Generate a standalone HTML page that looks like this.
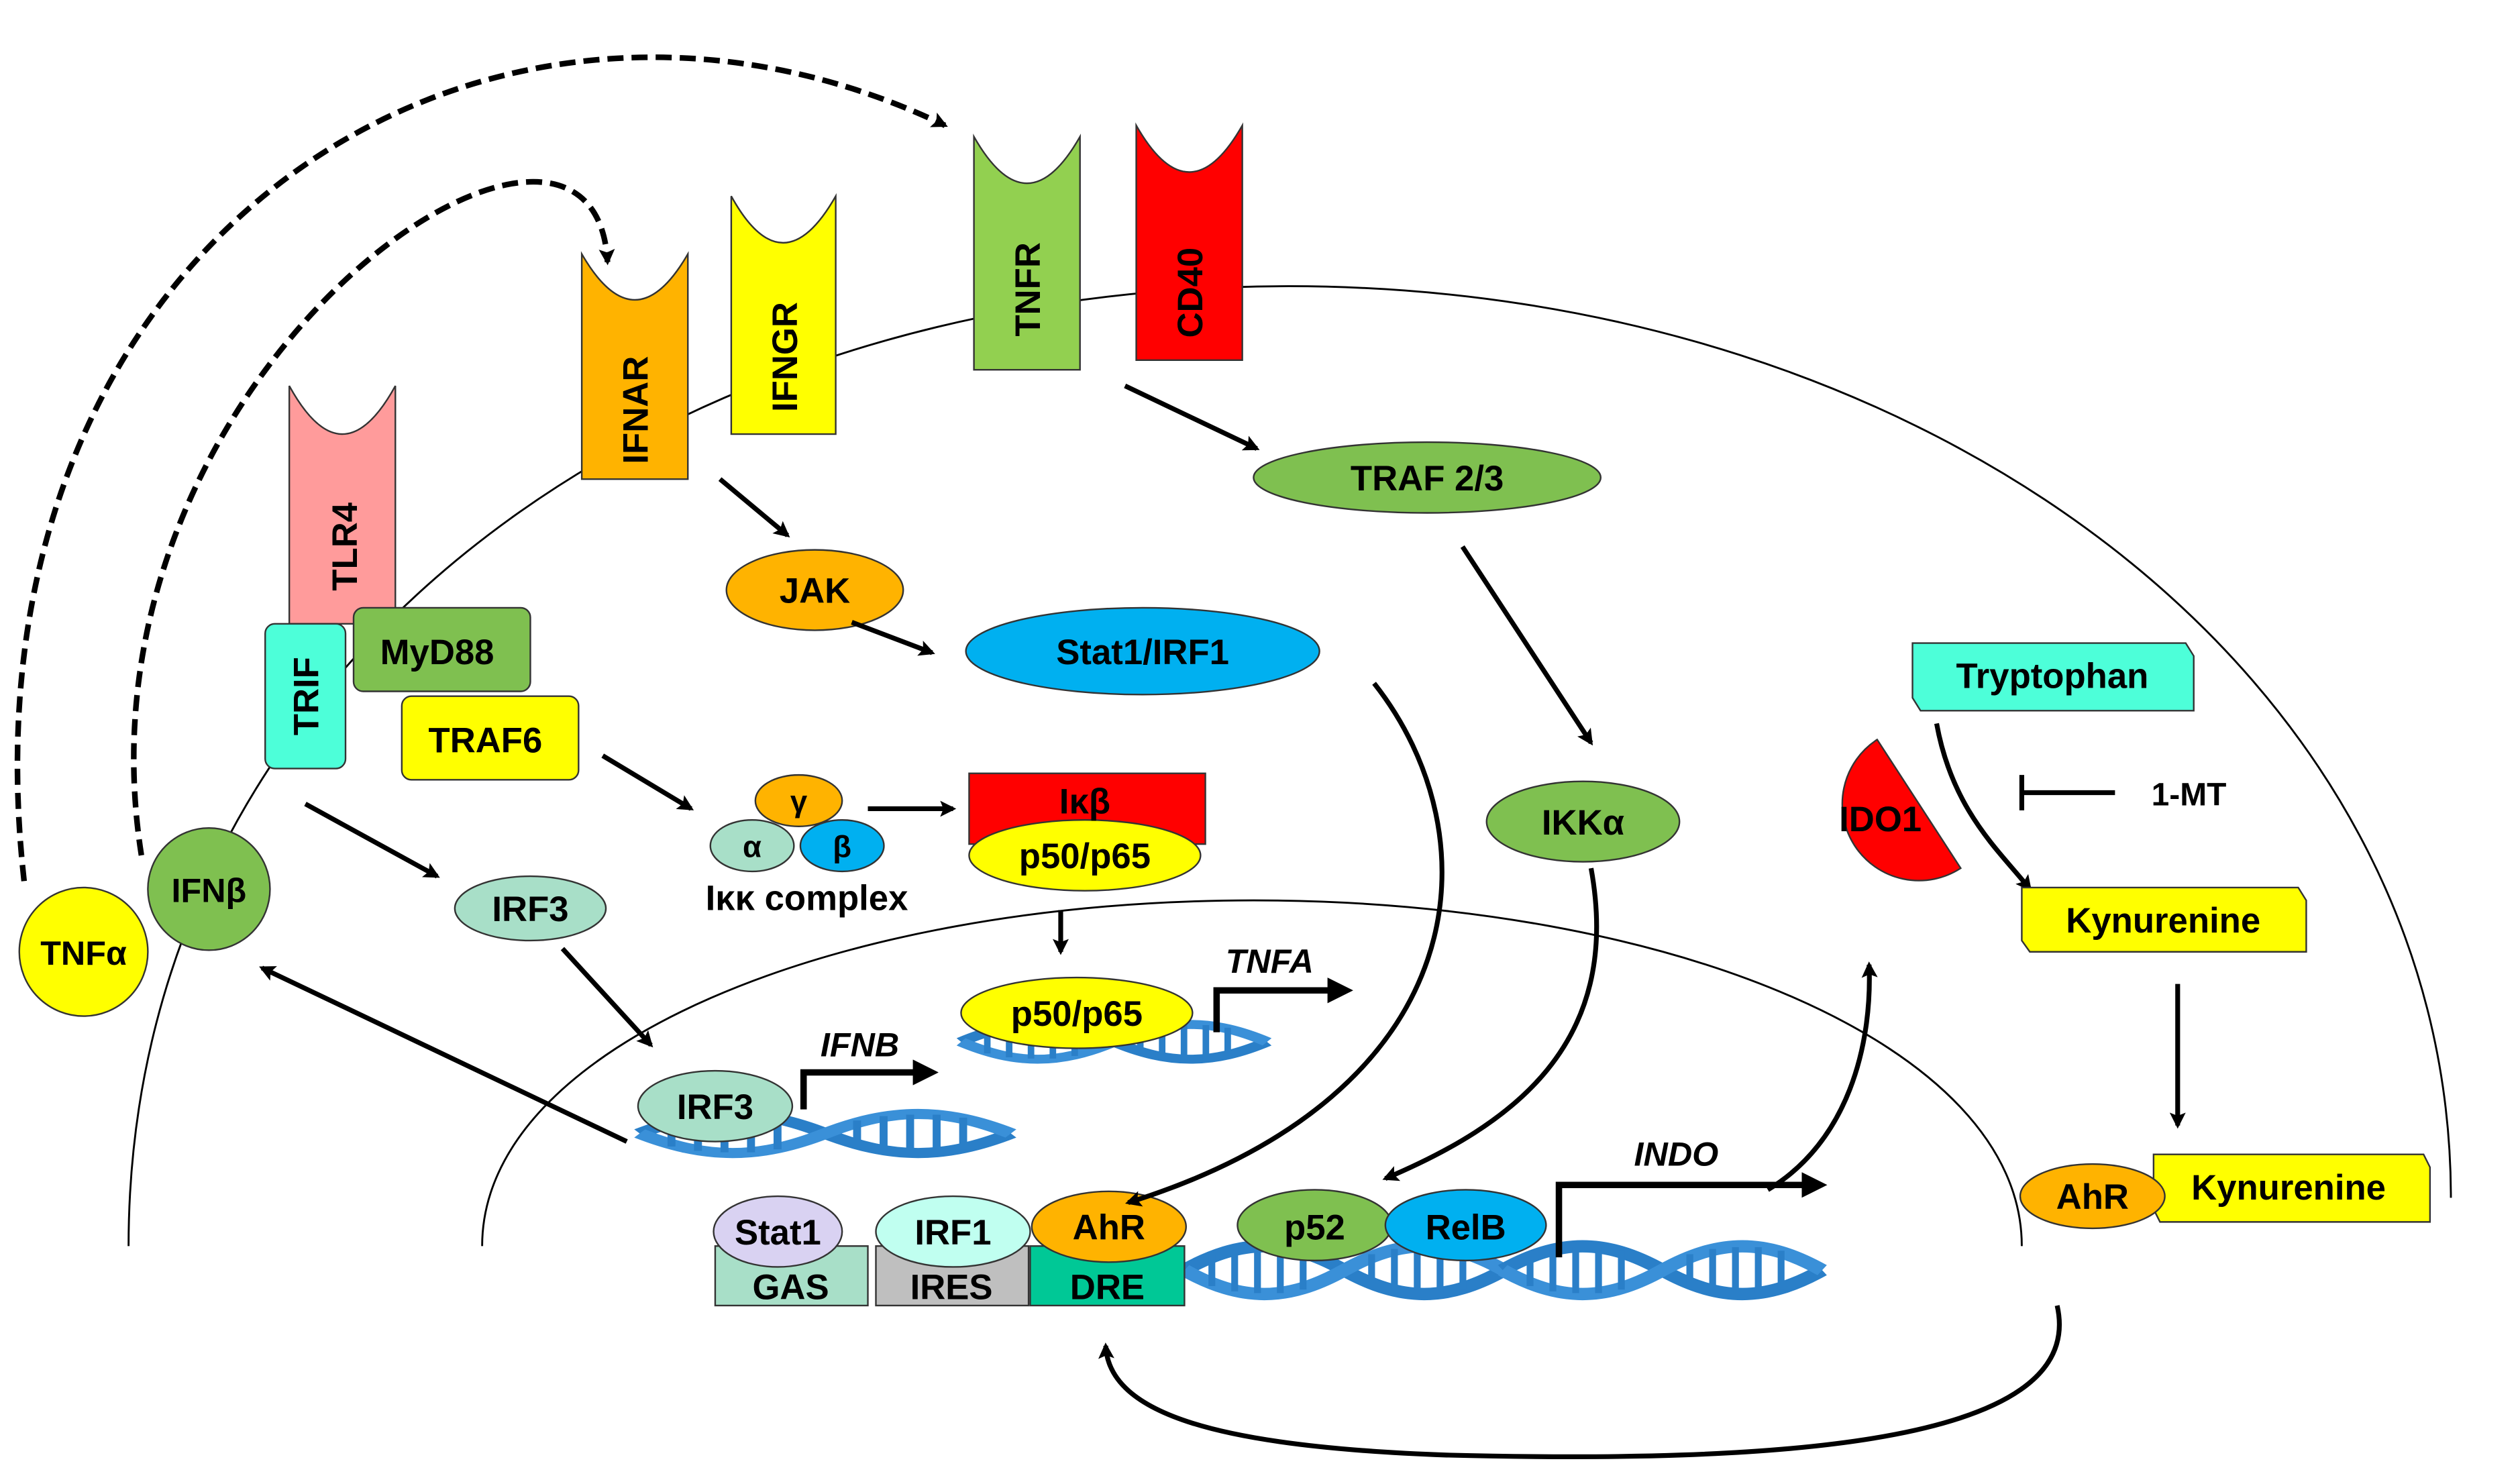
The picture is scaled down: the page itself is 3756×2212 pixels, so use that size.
<!DOCTYPE html>
<html><head><meta charset="utf-8"><style>
html,body{margin:0;padding:0;background:#fff;}
svg{display:block;}
text{font-family:"Liberation Sans",Arial,sans-serif;font-weight:bold;fill:#000;}
</style></head><body>
<svg width="3756" height="2212" viewBox="0 0 1568 923" preserveAspectRatio="none" xmlns="http://www.w3.org/2000/svg">
<defs>
<marker id="ah" markerWidth="10" markerHeight="10" refX="8" refY="5" orient="auto" markerUnits="userSpaceOnUse" viewBox="0 0 10 10"><path d="M0,0 L10,5 L0,10 L2,5 z" fill="#000"/></marker>
<marker id="ahb" markerWidth="16" markerHeight="16" refX="12" refY="8" orient="auto" markerUnits="userSpaceOnUse" viewBox="0 0 16 16"><path d="M0,0 L16,8 L0,16 z" fill="#000"/></marker>
<g id="dna">
<path d="M0,0 C25,-18 45,-18 70,0 S115,18 140,0" fill="none" stroke="#2a7fc8" stroke-width="7"/>
<path d="M0,0 C25,18 45,18 70,0 S115,-18 140,0" fill="none" stroke="#3a90d8" stroke-width="7"/>
<g stroke="#2a7fc8" stroke-width="3">
<line x1="12" y1="-9" x2="12" y2="9"/><line x1="22" y1="-12" x2="22" y2="12"/><line x1="32" y1="-13" x2="32" y2="13"/><line x1="42" y1="-13" x2="42" y2="13"/><line x1="52" y1="-11" x2="52" y2="11"/>
<line x1="82" y1="-9" x2="82" y2="9"/><line x1="92" y1="-12" x2="92" y2="12"/><line x1="102" y1="-13" x2="102" y2="13"/><line x1="112" y1="-13" x2="112" y2="13"/><line x1="122" y1="-11" x2="122" y2="11"/>
</g></g>
</defs>

<path d="M80,775 C80,420 400,178 802,178 C1200,178 1525,420 1525,745" fill="none" stroke="#000" stroke-width="1.2"/>
<path d="M300,775 C300,650 520,560 780,560 C1040,560 1258,650 1258,775" fill="none" stroke="#000" stroke-width="1.2"/>

<path d="M15,548 C-30,150 300,-60 588,78" fill="none" stroke="#000" stroke-width="3.5" stroke-dasharray="10,5" marker-end="url(#ah)"/>
<path d="M88,532 C40,230 370,10 378,163" fill="none" stroke="#000" stroke-width="3.5" stroke-dasharray="10,5" marker-end="url(#ah)"/>

<g stroke="#333" stroke-width="1">
<path d="M180,240 Q213,300 246,240 L246,388 L180,388 Z" fill="#FF9B9B"/>
<path d="M362,158 Q395,215 428,158 L428,298 L362,298 Z" fill="#FFB300"/>
<path d="M455,122 Q487,180 520,122 L520,270 L455,270 Z" fill="#FFFF00"/>
<path d="M606,85 Q639,143 672,85 L672,230 L606,230 Z" fill="#92D050"/>
<path d="M707,78 Q740,136 773,78 L773,224 L707,224 Z" fill="#FF0000"/>
</g>
<g font-size="22">
<text transform="translate(222,340) rotate(-90)" text-anchor="middle">TLR4</text>
<text transform="translate(403,255) rotate(-90)" text-anchor="middle">IFNAR</text>
<text transform="translate(496,222) rotate(-90)" text-anchor="middle">IFNGR</text>
<text transform="translate(647,180) rotate(-90)" text-anchor="middle">TNFR</text>
<text transform="translate(748,182) rotate(-90)" text-anchor="middle">CD40</text>
</g>

<g stroke="#333" stroke-width="1">
<rect x="165" y="388" width="50" height="90" rx="6" fill="#4DFFD9"/>
<rect x="220" y="378" width="110" height="52" rx="6" fill="#7FC050"/>
<rect x="250" y="433" width="110" height="52" rx="6" fill="#FFFF00"/>
</g>
<text transform="translate(198,433) rotate(-90)" text-anchor="middle" font-size="22">TRIF</text>
<text x="272" y="413" text-anchor="middle" font-size="22">MyD88</text>
<text x="302" y="468" text-anchor="middle" font-size="22">TRAF6</text>

<g stroke="#333" stroke-width="1">
<ellipse cx="507" cy="367" rx="55" ry="25" fill="#FFB300"/>
<ellipse cx="711" cy="405" rx="110" ry="27" fill="#00B0F0"/>
<ellipse cx="888" cy="297" rx="108" ry="22" fill="#7FC050"/>
<ellipse cx="985" cy="511" rx="60" ry="25" fill="#7FC050"/>
<ellipse cx="330" cy="565" rx="47" ry="20" fill="#A8DFC8"/>
<circle cx="52" cy="592" r="40" fill="#FFFF00"/>
<circle cx="130" cy="553" r="38" fill="#7FC050"/>
<ellipse cx="497" cy="498" rx="27" ry="16" fill="#FFB300"/>
<ellipse cx="468" cy="526" rx="26" ry="16" fill="#A8DFC8"/>
<ellipse cx="524" cy="526" rx="26" ry="16" fill="#00B0F0"/>
<rect x="603" y="481" width="147" height="44" fill="#FF0000"/>
<ellipse cx="675" cy="532" rx="72" ry="22" fill="#FFFF00"/>
</g>
<g font-size="22" text-anchor="middle">
<text x="507" y="375">JAK</text>
<text x="711" y="413">Stat1/IRF1</text>
<text x="888" y="305">TRAF 2/3</text>
<text x="985" y="519">IKKα</text>
<text x="330" y="573">IRF3</text>
<text x="52" y="600" font-size="21">TNFα</text>
<text x="130" y="561" font-size="21">IFNβ</text>
<text x="497" y="505" font-size="19">γ</text>
<text x="468" y="533" font-size="19">α</text>
<text x="524" y="533" font-size="19">β</text>
<text x="675" y="506">Iκβ</text>
<text x="675" y="540">p50/p65</text>
<text x="502" y="566">Iκκ complex</text>
</g>

<use href="#dna" transform="translate(598,648) scale(1.36,0.8)"/>
<use href="#dna" transform="translate(398,705) scale(1.65,0.9)"/>
<use href="#dna" transform="translate(737,790) scale(1.42,1.1)"/>
<use href="#dna" transform="translate(935,790) scale(1.42,1.1)"/>

<g stroke="#333" stroke-width="1">
<ellipse cx="670" cy="630" rx="72" ry="22" fill="#FFFF00"/>
<ellipse cx="445" cy="688" rx="48" ry="22" fill="#A8DFC8"/>
<rect x="445" y="775" width="95" height="37" fill="#A8DFC8"/>
<rect x="545" y="775" width="95" height="37" fill="#BFBFBF"/>
<rect x="641" y="775" width="96" height="37" fill="#00C896"/>
<ellipse cx="484" cy="766" rx="40" ry="22" fill="#D9D2F2"/>
<ellipse cx="593" cy="766" rx="48" ry="22" fill="#C0FFF0"/>
<ellipse cx="690" cy="763" rx="48" ry="22" fill="#FFB300"/>
<ellipse cx="818" cy="762" rx="48" ry="22" fill="#7FC050"/>
<ellipse cx="912" cy="762" rx="50" ry="22" fill="#00B0F0"/>
</g>
<g font-size="22" text-anchor="middle">
<text x="670" y="638">p50/p65</text>
<text x="445" y="696">IRF3</text>
<text x="484" y="774">Stat1</text>
<text x="593" y="774">IRF1</text>
<text x="690" y="771">AhR</text>
<text x="818" y="771">p52</text>
<text x="912" y="771">RelB</text>
<text x="492" y="808">GAS</text>
<text x="592" y="808">IRES</text>
<text x="689" y="808">DRE</text>
</g>

<g fill="none" stroke="#000" stroke-width="4">
<path d="M500,690 L500,667 L580,667" marker-end="url(#ahb)"/>
<path d="M757,642 L757,616 L838,616" marker-end="url(#ahb)"/>
<path d="M970,782 L970,737 L1133,737" marker-end="url(#ahb)"/>
</g>
<g font-size="21" font-style="italic" text-anchor="middle">
<text x="535" y="657">IFNB</text>
<text x="790" y="605">TNFA</text>
<text x="1043" y="725">INDO</text>
</g>

<g fill="none" stroke="#000" stroke-width="3" marker-end="url(#ah)">
<line x1="700" y1="240" x2="782" y2="279"/>
<line x1="448" y1="298" x2="490" y2="333"/>
<line x1="530" y1="387" x2="580" y2="406"/>
<line x1="910" y1="340" x2="990" y2="462"/>
<line x1="375" y1="470" x2="430" y2="503"/>
<line x1="540" y1="503" x2="593" y2="503"/>
<line x1="660" y1="566" x2="660" y2="592"/>
<line x1="190" y1="500" x2="272" y2="545"/>
<line x1="350" y1="590" x2="405" y2="650"/>
<line x1="390" y1="710" x2="163" y2="602"/>
<path d="M855,425 C930,520 920,680 702,748"/>
<path d="M990,540 C1010,650 940,700 862,733"/>
<path d="M1100,740 C1150,710 1165,650 1163,600"/>
<path d="M1205,450 C1215,505 1245,530 1263,553"/>
<line x1="1355" y1="612" x2="1355" y2="700"/>
<path d="M1280,812 C1300,900 1100,910 900,905 C760,900 690,880 688,837"/>
</g>

<g stroke="#333" stroke-width="1">
<path d="M1190,400 L1360,400 L1365,408 L1365,442 L1195,442 L1190,434 Z" fill="#4DFFD9"/>
<path d="M1168,460 A47.5,47.5 0 0 0 1220,540 Z" fill="#FF0000"/>
<path d="M1258,552 L1430,552 L1435,560 L1435,592 L1263,592 L1258,585 Z" fill="#FFFF00"/>
<path d="M1340,718 L1508,718 L1512,726 L1512,760 L1344,760 L1340,752 Z" fill="#FFFF00"/>
<ellipse cx="1302" cy="744" rx="45" ry="20" fill="#FFB300"/>
</g>
<g font-size="22" text-anchor="middle">
<text x="1277" y="428">Tryptophan</text>
<text x="1170" y="517">IDO1</text>
<text x="1346" y="580">Kynurenine</text>
<text x="1302" y="752">AhR</text>
<text x="1424" y="746">Kynurenine</text>
<text x="1362" y="501" font-size="20">1-MT</text>
</g>
<g stroke="#000" stroke-width="3">
<line x1="1258" y1="493" x2="1316" y2="493"/>
<line x1="1258" y1="482" x2="1258" y2="504"/>
</g>
</svg>
</body></html>
